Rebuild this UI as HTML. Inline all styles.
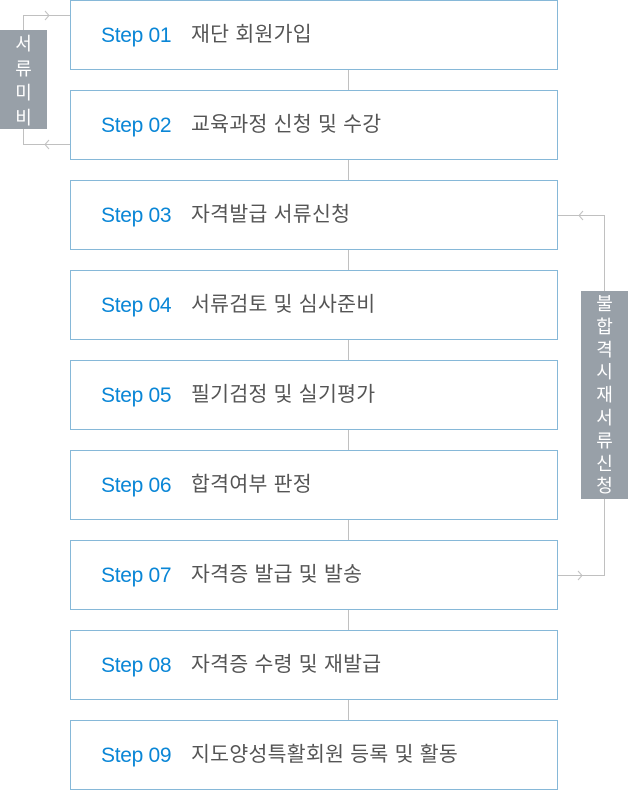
<!DOCTYPE html>
<html><head><meta charset="utf-8"><style>
body{margin:0;width:628px;height:790px;background:#fff;position:relative;overflow:hidden;font-family:"Liberation Sans","Noto Sans CJK KR",sans-serif}
.b{position:absolute;left:70px;width:486px;height:68px;border:1px solid #86b8d8;background:#fff}
.s{position:absolute;left:30px;top:20px;font-size:21px;color:#0a86d6;letter-spacing:-0.3px;line-height:30px}
.t{position:absolute;left:120px;top:19px;font-size:20.5px;color:#555;line-height:30px;letter-spacing:0.3px}
.lab{position:absolute;background:#98a0a8;color:#fff;font-size:18px;text-align:center;line-height:24.5px;width:47px}
</style></head><body>
<svg width="628" height="790" style="position:absolute;left:0;top:0">
<g stroke="#c0c0c0" stroke-width="1" fill="none">
<line x1="348.5" y1="0" x2="348.5" y2="790"/>
<polyline points="23.5,30 23.5,15.5 70,15.5"/>
<polyline points="45,11 49,15.5 45,20"/>
<polyline points="23.5,129 23.5,144.5 70,144.5"/>
<polyline points="49,140 45,144.5 49,149"/>
<polyline points="557,215.5 604.5,215.5 604.5,291"/>
<polyline points="583,211 579,215.5 583,220"/>
<polyline points="557,575.5 604.5,575.5 604.5,499"/>
<polyline points="578,571 582,575.5 578,580"/>
</g></svg>
<div class="lab" style="left:0;top:30px;height:99px;box-sizing:border-box;padding-top:2px">서<br>류<br>미<br>비</div>
<div class="lab" style="left:581px;top:291px;height:208px;box-sizing:border-box;padding-top:2px;line-height:22.8px">불<br>합<br>격<br>시<br>재<br>서<br>류<br>신<br>청</div>
<div class="b" style="top:0"><span class="s">Step 01</span><span class="t">재단 회원가입</span></div>
<div class="b" style="top:90px"><span class="s">Step 02</span><span class="t">교육과정 신청 및 수강</span></div>
<div class="b" style="top:180px"><span class="s">Step 03</span><span class="t">자격발급 서류신청</span></div>
<div class="b" style="top:270px"><span class="s">Step 04</span><span class="t">서류검토 및 심사준비</span></div>
<div class="b" style="top:360px"><span class="s">Step 05</span><span class="t">필기검정 및 실기평가</span></div>
<div class="b" style="top:450px"><span class="s">Step 06</span><span class="t">합격여부 판정</span></div>
<div class="b" style="top:540px"><span class="s">Step 07</span><span class="t">자격증 발급 및 발송</span></div>
<div class="b" style="top:630px"><span class="s">Step 08</span><span class="t">자격증 수령 및 재발급</span></div>
<div class="b" style="top:720px"><span class="s">Step 09</span><span class="t">지도양성특활회원 등록 및 활동</span></div>
</body></html>
